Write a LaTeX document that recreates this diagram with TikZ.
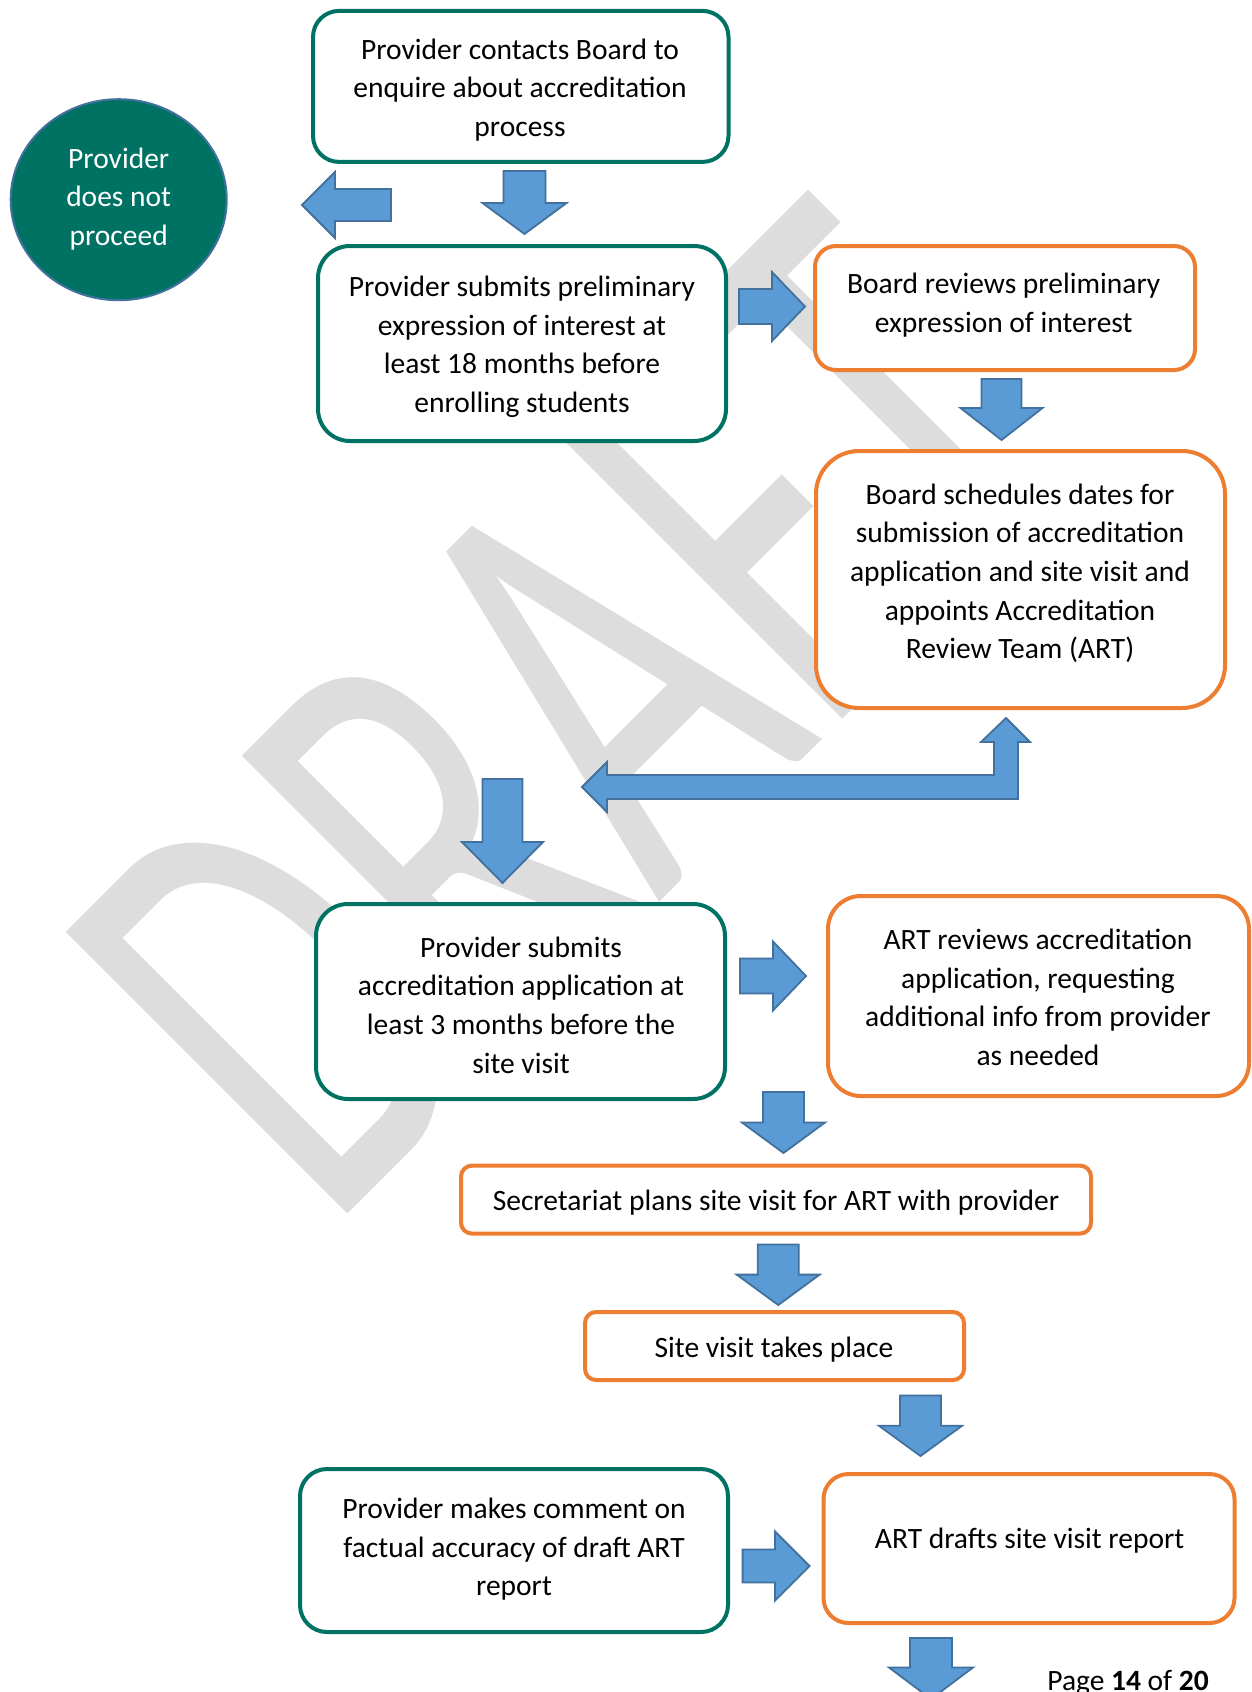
\documentclass[tikz,border=0pt]{standalone}
\usepackage{fontspec}
\setmainfont{Carlito}
\usetikzlibrary{shapes.geometric}
\definecolor{tealc}{RGB}{0,114,99}
\definecolor{orangec}{RGB}{237,125,49}
\definecolor{blfill}{RGB}{91,155,213}
\definecolor{blline}{RGB}{65,113,156}
\definecolor{wmgray}{RGB}{221,221,221}
\newcommand\bodyfont{\fontsize{29.5}{38.6}\selectfont}
% down block arrow: cx, top, headbase, tip, shaft half width, head half width
\newcommand\blkdown[6]{\path[blk] (#1-#5,#2) -- (#1+#5,#2) -- (#1+#5,#3) -- (#1+#6,#3) -- (#1,#4) -- (#1-#6,#3) -- (#1-#5,#3) -- cycle;}
% horizontal block arrow: cy, tail x, headbase x, tip x, shaft half, head half
\newcommand\blkhor[6]{\path[blk] (#2,#1-#5) -- (#3,#1-#5) -- (#3,#1-#6) -- (#4,#1) -- (#3,#1+#6) -- (#3,#1+#5) -- (#2,#1+#5) -- cycle;}
\tikzset{
  box/.style={draw, line width=4, fill=white, inner sep=0},
  gbox/.style={box, draw=tealc},
  obox/.style={box, draw=orangec},
  txt/.style={align=center, inner sep=0, font=\bodyfont, text=black},
  blk/.style={fill=blfill, draw=blline, line width=1.8, line join=miter},
}
\begin{document}
\begin{tikzpicture}[x=1pt,y=-1pt]
\useasboundingbox (0,0) rectangle (1252,1692);
\clip (0,0) rectangle (1252,1692);
\fill[white] (0,0) rectangle (1252,1692);
% watermark
\node[rotate=45, anchor=base west, inner sep=0, text=wmgray, font=\fontsize{621}{621}\selectfont] (wm) at (328,1234) {\scalebox{0.65}[1]{DRAFT}};
% block arrows
\blkhor{205}{391}{335}{302}{16}{33}
\blkdown{524.5}{171}{203}{234}{21}{42}
\blkhor{306.5}{739}{772}{805}{17.5}{34.5}
\blkdown{1001.5}{379}{408}{440}{20}{41}
\path[blk] (582,787) -- (607,762) -- (607,775) -- (994,775) -- (994,742) -- (981,742) -- (1006,718) -- (1030,742) -- (1018,742) -- (1018,799) -- (607,799) -- (607,812) -- cycle;
\blkdown{502.5}{779}{842}{883}{20}{40.5}
\blkhor{976}{740}{773}{806}{17.5}{34.5}
\blkdown{783.5}{1092}{1122.5}{1153}{20.5}{41.5}
\blkdown{778.2}{1244.4}{1274.6}{1305}{20.5}{41.5}
\blkdown{920.5}{1395.5}{1425.8}{1456}{20.5}{41.5}
\blkhor{1566}{742.6}{775}{809.5}{16.5}{34.5}
\blkdown{931}{1638}{1667.5}{1699}{21}{42}
% boxes
\node[gbox, minimum width=415.5, minimum height=151, rounded corners=26] (b1) at (520.75,86.4) {};
\node[gbox, minimum width=408, minimum height=195, rounded corners=32] (b2) at (522,343.5) {};
\node[obox, minimum width=380, minimum height=124, rounded corners=21] (b3) at (1005,308) {};
\node[obox, minimum width=409, minimum height=257, rounded corners=43] (b4) at (1020.5,579.5) {};
\node[gbox, minimum width=409, minimum height=195, rounded corners=32] (b5) at (520.5,1001.5) {};
\node[obox, minimum width=421, minimum height=200, rounded corners=33] (b6) at (1038.5,996) {};
\node[obox, minimum width=630, minimum height=68, rounded corners=11] (b7) at (776,1199.6) {};
\node[obox, minimum width=379, minimum height=68, rounded corners=11] (b8) at (774.5,1346) {};
\node[gbox, minimum width=428, minimum height=163, rounded corners=27] (b9) at (514,1550.5) {};
\node[obox, minimum width=411, minimum height=149, rounded corners=25] (b10) at (1029,1548.5) {};
\node[ellipse, fill=tealc, draw=blline, line width=2, minimum width=216, minimum height=201, inner sep=0] (c1) at (118.7,199.7) {};
% texts
\node[txt] (t1) at (520,90) {Provider contacts Board to\\enquire about accreditation\\process};
\node[txt, text=white] (tc) at (118.7,198.8) {Provider\\does not\\proceed};
\node[txt] (t2) at (522,346.8) {Provider submits preliminary\\expression of interest at\\least 18 months before\\enrolling students};
\node[txt] (t3) at (1003.7,305.2) {Board reviews preliminary\\expression of interest};
\node[txt] (t4) at (1020,573.3) {Board schedules dates for\\submission of accreditation\\application and site visit and\\appoints Accreditation\\Review Team (ART)};
\node[txt] (t5) at (521,1005) {Provider submits\\accreditation application at\\least 3 months before the\\site visit};
\node[txt] (t6) at (1038,997.2) {ART reviews accreditation\\application, requesting\\additional info from provider\\as needed};
\node[txt] (t7) at (776,1202.5) {Secretariat plans site visit for ART with provider};
\node[txt] (t8) at (774,1349.5) {Site visit takes place};
\node[txt] (t9) at (514,1549.2) {Provider makes comment on\\factual accuracy of draft ART\\report};
\node[txt] (t10) at (1029.6,1540.5) {ART drafts site visit report};
\node[anchor=base east, inner sep=0, font=\fontsize{29.5}{34}\selectfont] (pg) at (1209,1690) {Page \textbf{14} of \textbf{20}};
\end{tikzpicture}
\end{document}
